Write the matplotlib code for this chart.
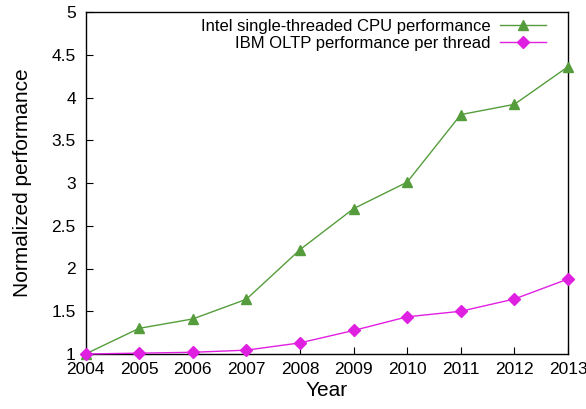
import matplotlib.pyplot as plt
import matplotlib.ticker as ticker

plt.rcParams["font.family"] = ["Liberation Sans", "DejaVu Sans"]

years = [2004, 2005, 2006, 2007, 2008, 2009, 2010, 2011, 2012, 2013]
intel_perf = [1.0, 1.30, 1.41, 1.64, 2.22, 2.70, 3.01, 3.80, 3.92, 4.36]
ibm_perf = [1.0, 1.01, 1.02, 1.045, 1.13, 1.275, 1.435, 1.50, 1.643, 1.877]

GREEN = "#559d3c"
MAGENTA = "#e020e0"

fig = plt.figure(figsize=(5.86, 4.09), dpi=100)
ax = fig.add_axes([85.5 / 586, 55 / 409, (568 - 85.5) / 586, (354 - 12) / 409])

ax.plot(years, intel_perf, color=GREEN, lw=1.0, marker="^", markersize=7,
        label="Intel single-threaded CPU performance", clip_on=False, zorder=3)
ax.plot(years, ibm_perf, color=MAGENTA, lw=1.0, marker="D", markersize=6,
        label="IBM OLTP performance per thread", clip_on=False, zorder=4)

ax.set_xlim(2004, 2013)
ax.set_ylim(1, 5)
ax.set_xticks(years)
ax.yaxis.set_major_locator(ticker.MultipleLocator(0.5))
ax.yaxis.set_major_formatter(ticker.FuncFormatter(lambda v, p: f"{v:g}"))
ax.tick_params(direction="in", length=5, width=0.8, labelsize=12.5)
ax.tick_params(axis="x", pad=6)
ax.tick_params(axis="y", pad=7)
for s in ax.spines.values():
    s.set_linewidth(1.0)

ax.set_xlabel("Year", fontsize=15, labelpad=3)
ax.set_ylabel("Normalized performance", fontsize=15, labelpad=14)

ax.legend(loc="upper right", bbox_to_anchor=(0.968, 1.0), frameon=False,
          markerfirst=False, fontsize=12, handlelength=2.75, labelspacing=0.12,
          borderaxespad=0.0, handletextpad=0.55)

fig.savefig("out.png", dpi=100)
